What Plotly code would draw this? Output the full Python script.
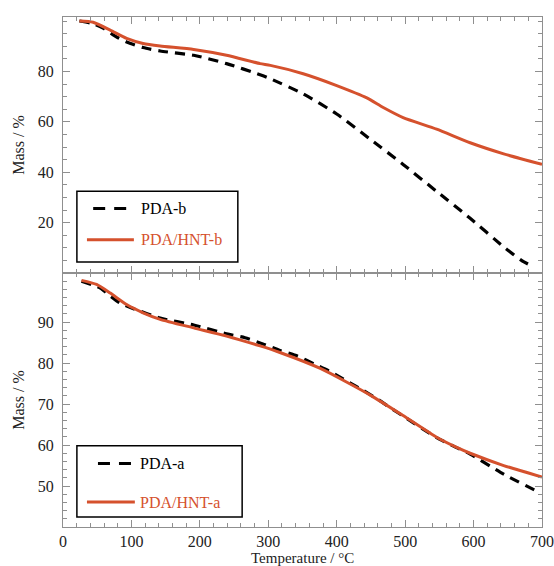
import plotly.graph_objects as go

# ---------------- data ----------------
# top panel (b)
temp_pda_b = [24, 42, 60, 78, 93, 117, 142, 191, 239, 288, 303, 351, 400, 449, 497, 546, 595, 644, 670, 688]
mass_pda_b = [100, 99.1, 97.0, 93.7, 91.7, 89.5, 88.1, 86.4, 83.1, 78.7, 77.1, 71.1, 63.1, 53.1, 43.1, 32.4, 21.7, 10.4, 5.0, 2.4]

temp_hnt_b = [24, 44, 69, 93, 117, 142, 191, 239, 288, 303, 351, 400, 444, 468, 497, 546, 595, 644, 700]
mass_hnt_b = [100, 99.5, 96.4, 93.1, 91.1, 90.1, 88.7, 86.4, 83.1, 82.4, 79.1, 74.4, 69.5, 65.7, 61.7, 57.1, 51.7, 47.3, 43.1]

# bottom panel (a)
temp_pda_a = [27, 54, 69, 83, 103, 142, 191, 239, 266, 292, 317, 343, 367, 392, 415, 438, 461, 480, 497, 546, 570, 595, 644, 692]
mass_pda_a = [100, 98.4, 96.4, 94.7, 93.3, 91.0, 89.3, 87.15, 86.2, 84.7, 83.1, 81.7, 79.8, 77.8, 75.6, 73.4, 71.1, 68.9, 67.1, 61.8, 59.8, 57.8, 52.9, 48.8]

temp_hnt_a = [27, 49, 69, 93, 117, 142, 191, 239, 288, 317, 376, 449, 497, 546, 573, 595, 644, 700]
mass_hnt_a = [100.2, 99.2, 97.1, 94.3, 92.3, 90.7, 88.6, 86.6, 84.2, 82.6, 78.7, 72.2, 67.2, 61.9, 59.6, 58.0, 55.0, 52.2]

x_ticks = [0, 100, 200, 300, 400, 500, 600, 700]
y_ticks_top = [20, 40, 60, 80]
y_ticks_bottom = [50, 60, 70, 80, 90]

names_top = ["PDA-b", "PDA/HNT-b"]
names_bottom = ["PDA-a", "PDA/HNT-a"]
x_title = "Temperature / °C"
y_title = "Mass / %"

# ---------------- style ----------------
ORANGE = "#d5512d"
FRAME = "#8f8f8f"
FONT = "Liberation Serif"
DASH = "10px,7px"
LEG_DASH = "12px,9px"

fig = go.Figure()

fig.add_trace(go.Scatter(x=temp_pda_b, y=mass_pda_b, mode="lines", name=names_top[0],
                         line=dict(color="black", width=3.2, dash=DASH, shape="spline", smoothing=0.6),
                         xaxis="x2", yaxis="y2", showlegend=False))
fig.add_trace(go.Scatter(x=temp_hnt_b, y=mass_hnt_b, mode="lines", name=names_top[1],
                         line=dict(color=ORANGE, width=3, shape="spline", smoothing=0.6),
                         xaxis="x2", yaxis="y2", showlegend=False))
fig.add_trace(go.Scatter(x=temp_pda_a, y=mass_pda_a, mode="lines", name=names_bottom[0],
                         line=dict(color="black", width=3.2, dash=DASH, shape="spline", smoothing=0.6),
                         xaxis="x", yaxis="y", showlegend=False))
fig.add_trace(go.Scatter(x=temp_hnt_a, y=mass_hnt_a, mode="lines", name=names_bottom[1],
                         line=dict(color=ORANGE, width=3, shape="spline", smoothing=0.6),
                         xaxis="x", yaxis="y", showlegend=False))

axis_common = dict(showline=True, linecolor=FRAME, linewidth=1, mirror="allticks",
                   ticks="inside", tickcolor=FRAME, ticklen=7, tickwidth=1,
                   showgrid=False, zeroline=False, automargin=False,
                   tickfont=dict(family=FONT, size=16, color="#222"))

# ---------- manual legends (boxes, samples, labels) ----------
shapes = []
annotations = []


def add_legend(xr, yr, box, samples, labels, text_x):
    shapes.append(dict(type="rect", xref=xr, yref=yr, x0=box[0], x1=box[1], y0=box[2], y1=box[3],
                       line=dict(color="black", width=1.5), fillcolor="white", layer="above"))
    for (x0, x1, yy, color, dash), lab in zip(samples, labels):
        shapes.append(dict(type="line", xref=xr, yref=yr, x0=x0, x1=x1, y0=yy, y1=yy,
                           line=dict(color=color, width=3, dash=dash), layer="above"))
        annotations.append(dict(xref=xr, yref=yr, x=text_x, y=yy, text=lab, showarrow=False,
                                xanchor="left", yanchor="middle",
                                font=dict(family=FONT, size=16,
                                          color="black" if color == "black" else color)))


add_legend("x2 domain", "y2 domain", (0.029, 0.365, 0.043, 0.319),
           [(0.063, 0.144, 0.252, "black", LEG_DASH), (0.050, 0.148, 0.130, ORANGE, "solid")],
           names_top, 0.158)
add_legend("x domain", "y domain", (0.029, 0.374, 0.039, 0.320),
           [(0.073, 0.144, 0.250, "black", LEG_DASH), (0.050, 0.150, 0.098, ORANGE, "solid")],
           names_bottom, 0.157)

# x-axis title placed just below the tick labels
annotations.append(dict(xref="paper", yref="paper", x=0.5, y=-0.061, text=x_title,
                        showarrow=False, xanchor="center", yanchor="middle",
                        font=dict(family=FONT, size=15, color="#222")))

fig.update_layout(
    width=554, height=566,
    margin=dict(l=63, r=12, t=17, b=39),
    paper_bgcolor="white", plot_bgcolor="white",
    font=dict(family=FONT, size=16, color="#222"),
    showlegend=False,
    shapes=shapes, annotations=annotations,
    xaxis=dict(axis_common, range=[0, 700], domain=[0, 1], anchor="y",
               tickmode="array", tickvals=x_ticks,
               minor=dict(tickmode="linear", tick0=0, dtick=20, ticks="inside", ticklen=4,
                          tickcolor=FRAME)),
    xaxis2=dict(axis_common, range=[0, 700], domain=[0, 1], anchor="y2", matches="x",
                tickmode="array", tickvals=x_ticks, showticklabels=False,
                minor=dict(tickmode="linear", tick0=0, dtick=20, ticks="inside", ticklen=4,
                           tickcolor=FRAME)),
    yaxis=dict(axis_common, range=[40, 102], domain=[0, 0.498], anchor="x",
               tickmode="array", tickvals=y_ticks_bottom, ticklabelstandoff=5,
               minor=dict(tickmode="linear", tick0=0, dtick=2, ticks="inside", ticklen=4,
                          tickcolor=FRAME),
               title=dict(text=y_title, font=dict(family=FONT, size=16), standoff=9)),
    yaxis2=dict(axis_common, range=[0, 101.6], domain=[0.498, 1], anchor="x2",
                tickmode="array", tickvals=y_ticks_top, ticklabelstandoff=5,
                minor=dict(tickmode="linear", tick0=0, dtick=5, ticks="inside", ticklen=4,
                           tickcolor=FRAME),
                title=dict(text=y_title, font=dict(family=FONT, size=16), standoff=9)),
)

fig.write_html("out.html", config={"displayModeBar": False},
               post_script="document.body.style.margin='0';document.body.style.overflow='hidden';")
